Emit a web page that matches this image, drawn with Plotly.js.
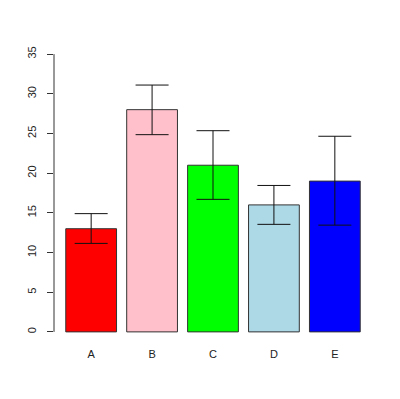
<!DOCTYPE html>
<html><head><meta charset="utf-8">
<script src="https://cdn.plot.ly/plotly-3.0.1.min.js"></script>
<style>html,body{margin:0;padding:0;background:#fff}#chart{width:400px;height:399px}</style>
</head><body><div id="chart"></div>
<script>
const categories = ["A", "B", "C", "D", "E"];
const values = [13, 28, 21, 16, 19];
const errUpper = [14.9, 31.1, 25.35, 18.45, 24.65];
const errLower = [11.15, 24.85, 16.7, 13.55, 13.45];
const barColors = ["#FF0000", "#FFC0CB", "#00FF00", "#ADD8E6", "#0000FF"];
const yTicks = [0, 5, 10, 15, 20, 25, 30, 35];

const plus = values.map((v, i) => errUpper[i] - v);
const minus = values.map((v, i) => v - errLower[i]);

const trace = {
  type: "bar",
  x: categories,
  y: values,
  width: 1 / 1.2,
  marker: {color: barColors, line: {color: "#333333", width: 1}},
  error_y: {type: "data", symmetric: false, array: plus, arrayminus: minus,
            color: "#111111", thickness: 1, width: 16.5},
  hoverinfo: "none"
};

const layout = {
  width: 400, height: 399,
  margin: {l: 53.5, r: 27.5, t: 43, b: 56, pad: 0},
  paper_bgcolor: "#ffffff", plot_bgcolor: "#ffffff",
  showlegend: false,
  font: {family: "Liberation Sans, Arial, sans-serif", size: 11, color: "#222222"},
  xaxis: {
    range: [-0.61, 4.61], showline: false, showgrid: false, zeroline: false,
    ticks: "", tickfont: {size: 11}, ticklabelstandoff: 3
  },
  yaxis: {
    range: [-1.4, 36.4], showline: false, showgrid: false, zeroline: false,
    tickvals: yTicks, ticktext: yTicks.map(String), tickangle: -90,
    ticks: "outside", ticklen: 6, tickcolor: "#333333", tickwidth: 1,
    tickfont: {size: 11}, ticklabelstandoff: 7
  },
  shapes: [{
    type: "line", xref: "paper", yref: "y", x0: 0, x1: 0, y0: 0, y1: 35,
    line: {color: "#333333", width: 1}
  }]
};

Plotly.newPlot("chart", [trace], layout, {displayModeBar: false, staticPlot: true});
</script>
</body></html>
